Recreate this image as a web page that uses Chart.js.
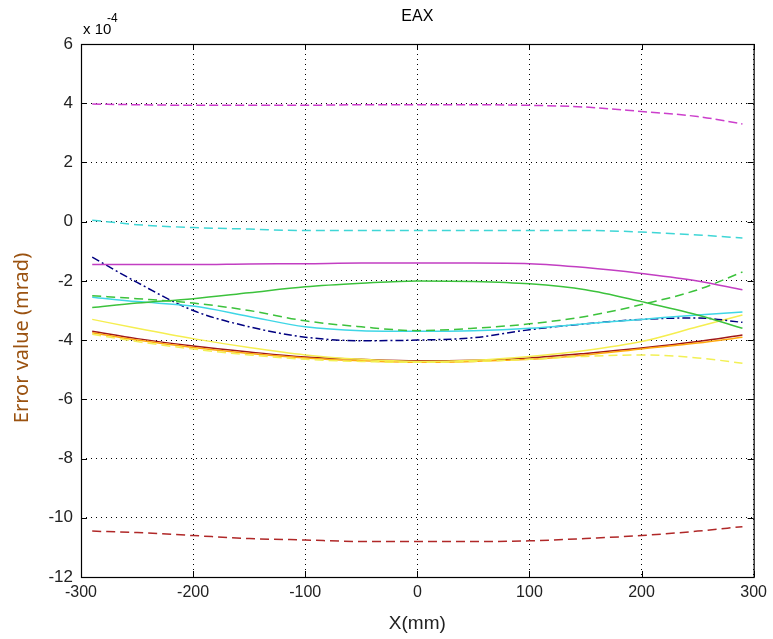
<!DOCTYPE html>
<html><head><meta charset="utf-8">
<script src="https://cdn.jsdelivr.net/npm/chart.js@4/dist/chart.umd.min.js"></script>
<style>html,body{margin:0;padding:0;background:#fff;}canvas{display:block;}</style>
</head><body>
<canvas id="c" width="773" height="639"></canvas>
<script>
// values in units of 1e-4 mrad
const xs = [-290,-250,-200,-150,-100,-50,0,50,100,150,200,250,290];
const magentaDash = [3.97,3.95,3.93,3.93,3.93,3.95,3.95,3.95,3.93,3.87,3.72,3.55,3.3];
const cyanDash = [0.05,-0.1,-0.2,-0.25,-0.3,-0.3,-0.3,-0.3,-0.3,-0.3,-0.35,-0.45,-0.55];
const magentaSolid = [-1.45,-1.45,-1.45,-1.43,-1.42,-1.4,-1.4,-1.4,-1.42,-1.55,-1.75,-2.0,-2.3];
const greenSolid = [-2.9,-2.75,-2.6,-2.4,-2.2,-2.08,-2.0,-2.02,-2.1,-2.3,-2.7,-3.15,-3.6];
const greenDash = [-2.5,-2.6,-2.75,-3.0,-3.35,-3.55,-3.68,-3.6,-3.45,-3.2,-2.8,-2.3,-1.7];
const cyanSolid = [-2.55,-2.7,-2.85,-3.2,-3.55,-3.68,-3.7,-3.68,-3.6,-3.45,-3.3,-3.15,-3.05];
const navyDash = [-1.2,-2.05,-3.0,-3.55,-3.9,-4.02,-4.0,-3.92,-3.65,-3.45,-3.3,-3.25,-3.4];
const yellowSolid = [-3.3,-3.6,-3.95,-4.25,-4.5,-4.65,-4.72,-4.68,-4.55,-4.35,-4.05,-3.55,-3.15];
const yellowDash = [-3.8,-4.05,-4.3,-4.5,-4.65,-4.72,-4.75,-4.72,-4.65,-4.55,-4.5,-4.6,-4.78];
const orangeSolid = [-3.75,-4.0,-4.25,-4.45,-4.6,-4.7,-4.75,-4.72,-4.65,-4.5,-4.3,-4.1,-3.9];
const redSolid = [-3.7,-3.95,-4.2,-4.4,-4.57,-4.65,-4.7,-4.68,-4.6,-4.45,-4.27,-4.05,-3.83];
const redDash = [-10.45,-10.5,-10.6,-10.7,-10.75,-10.8,-10.8,-10.8,-10.78,-10.7,-10.6,-10.45,-10.3];
const xTicks = [-300,-200,-100,0,100,200,300];
const yTicks = [6,4,2,0,-2,-4,-6,-8,-10,-12];

const pts = arr => arr.map((v,i)=>({x:xs[i], y:v}));
const mk = (data,color,dash)=>({data:pts(data),borderColor:color,borderWidth:1.5,borderDash:dash||[],pointRadius:0,fill:false,tension:0.35,cubicInterpolationMode:'monotone'});

const FONT = "'Liberation Sans Narrow','Liberation Sans',Arial,sans-serif";

const frame = {
  id:'frame',
  afterDraw(chart){
    const {ctx, chartArea:a, scales:{x,y}} = chart;
    ctx.save();
    ctx.strokeStyle='#000'; ctx.lineWidth=1.2; ctx.setLineDash([]);
    ctx.strokeRect(a.left+0.5,a.top+0.5,a.right-a.left,a.bottom-a.top);
    ctx.lineWidth=1;
    const L=6;
    xTicks.forEach(t=>{const px=Math.round(x.getPixelForValue(t))+0.5;
      ctx.beginPath();ctx.moveTo(px,a.bottom);ctx.lineTo(px,a.bottom-L);
      ctx.moveTo(px,a.top);ctx.lineTo(px,a.top+L);ctx.stroke();});
    yTicks.forEach(t=>{const py=Math.round(y.getPixelForValue(t))+0.5;
      ctx.beginPath();ctx.moveTo(a.left,py);ctx.lineTo(a.left+L,py);
      ctx.moveTo(a.right,py);ctx.lineTo(a.right-L,py);ctx.stroke();});
    // title
    ctx.fillStyle='#000'; ctx.textAlign='center'; ctx.textBaseline='alphabetic';
    ctx.font="16px "+FONT;
    ctx.fillText('EAX',(a.left+a.right)/2,21);
    // exponent
    ctx.textAlign='left';
    ctx.font="15px "+FONT;
    ctx.fillText('x 10',83,34);
    ctx.font="12px "+FONT;
    ctx.fillText('-4',107,22);
    // y axis title
    ctx.save();
    ctx.translate(22,338); ctx.rotate(-Math.PI/2);
    ctx.textAlign='center'; ctx.textBaseline='middle';
    ctx.fillStyle='#9a5210';
    ctx.font="20px 'Noto Sans',sans-serif";
    ctx.fillText('Error value (mrad)',0,0);
    ctx.restore();
    ctx.restore();
  }
};

new Chart(document.getElementById('c'),{
  type:'line',
  data:{datasets:[
    mk(magentaDash,'#cc3fcc',[9,4]),
    mk(cyanDash,'#3fd6d6',[9,5]),
    mk(magentaSolid,'#c23ec2'),
    mk(greenSolid,'#3cc23c'),
    mk(greenDash,'#3cc23c',[9,5]),
    mk(cyanSolid,'#3fd6e6'),
    mk(navyDash,'#000080',[8,3,2,3]),
    mk(yellowDash,'#f2f055',[9,5]),
    mk(yellowSolid,'#f5ee50'),
    mk(orangeSolid,'#ffaa10'),
    mk(redSolid,'#a01818'),
    mk(redDash,'#b02828',[9,5])
  ]},
  options:{
    responsive:false, animation:false, devicePixelRatio:1,
    layout:{padding:{top:44,right:19,left:0,bottom:0}},
    plugins:{legend:{display:false},tooltip:{enabled:false}},
    scales:{
      x:{type:'linear',min:-300,max:300,
        afterBuildTicks:s=>{s.ticks=xTicks.map(v=>({value:v}));},
        afterFit:s=>{s.height=62;},
        grid:{color:'#000',lineWidth:1,drawTicks:false},
        border:{display:false,dash:[1,4]},
        ticks:{color:'#222',font:{size:16,family:FONT},padding:6,maxRotation:0},
        title:{display:true,text:'X(mm)',color:'#222',font:{size:19,family:FONT},padding:{top:2}}
      },
      y:{type:'linear',min:-12,max:6,
        afterBuildTicks:s=>{s.ticks=yTicks.map(v=>({value:v}));},
        afterFit:s=>{s.width=81;},
        grid:{color:'#000',lineWidth:1,drawTicks:false},
        border:{display:false,dash:[1,4]},
        ticks:{color:'#222',font:{size:17,family:FONT},padding:8},
        title:{display:false}
      }
    }
  },
  plugins:[frame]
});
</script>
</body></html>
